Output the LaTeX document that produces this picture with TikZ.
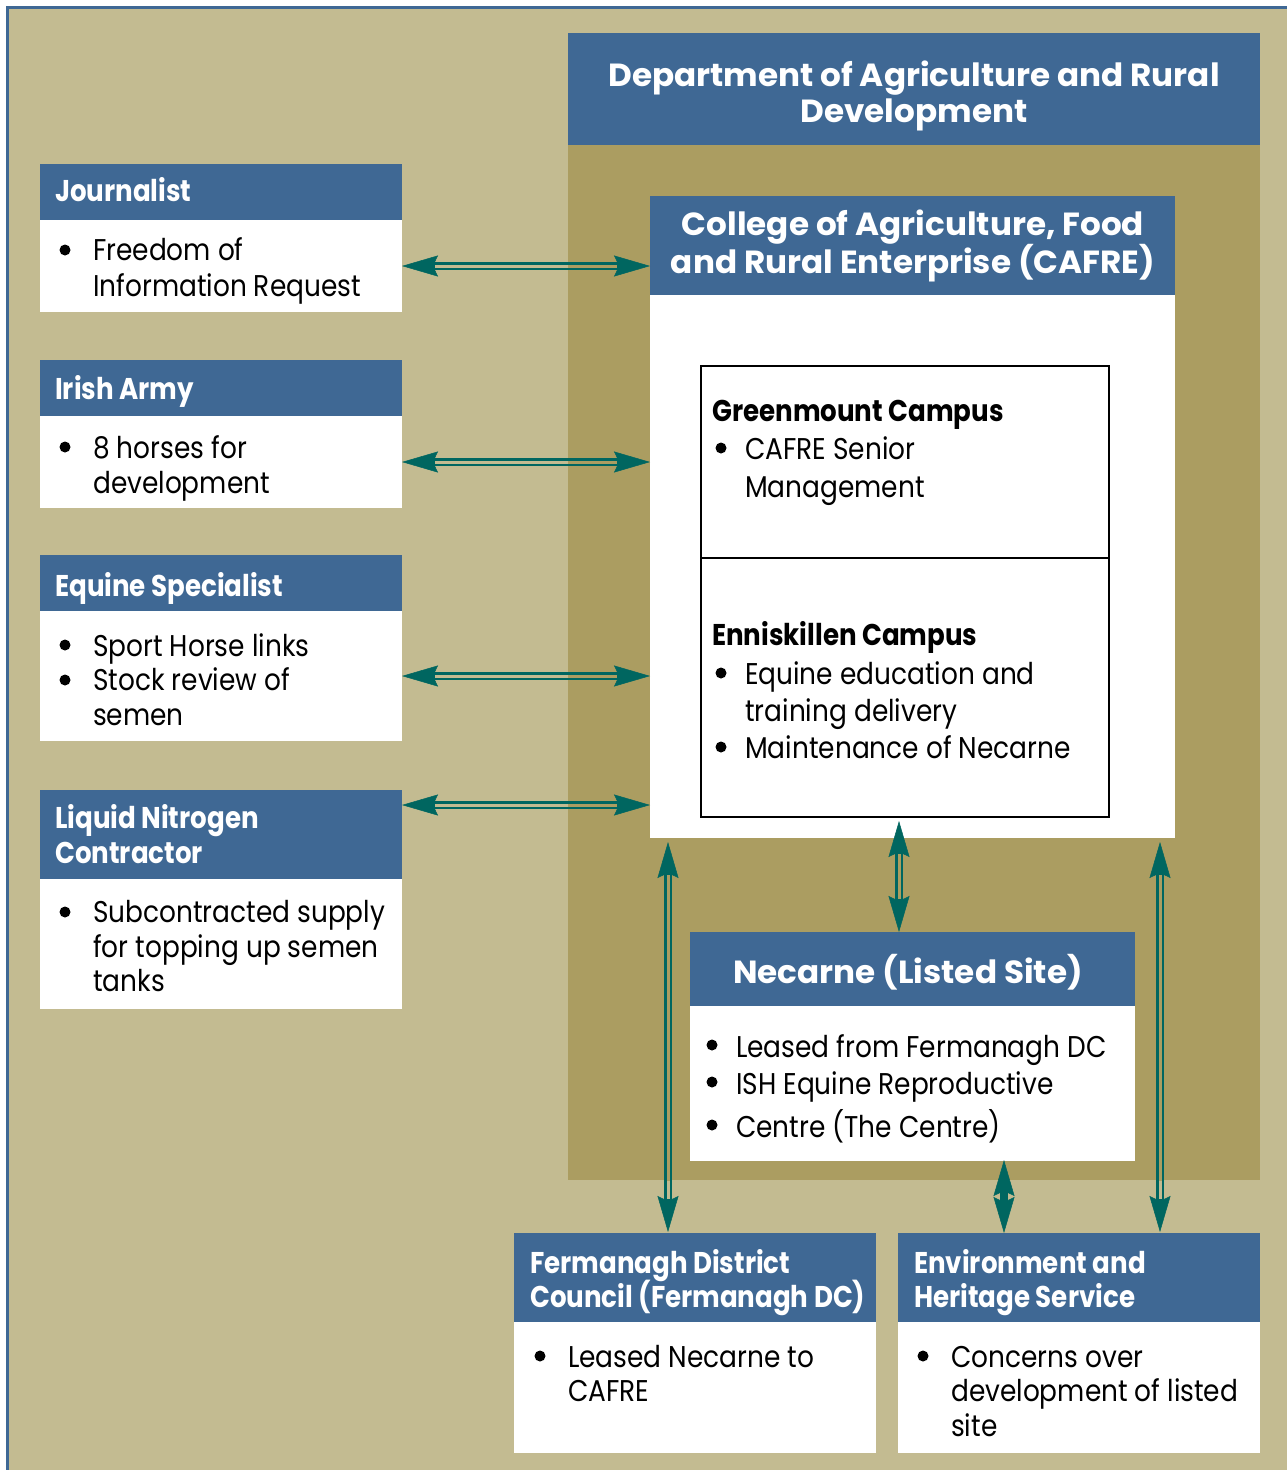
\documentclass[tikz,border=0pt]{standalone}
\usepackage{fontspec}
\setmainfont{Poppins}
\newfontfamily\bodyf{Poppins}[FakeStretch=0.88]
\newfontfamily\headf{Poppins}[FakeStretch=0.87]
\newfontfamily\bigf{Poppins}[FakeStretch=1.02]
\usetikzlibrary{arrows.meta,calc}
\definecolor{bgl}{HTML}{C3BB91}
\definecolor{bgd}{HTML}{AB9D61}
\definecolor{hblue}{HTML}{3F6894}
\definecolor{arr}{HTML}{006660}
\newcommand\myconns[1]{%
  \draw[#1] (jb.east) -- (jb.east -| cb.west);
  \draw[#1] (ib.east) -- (ib.east -| cb.west);
  \draw[#1] (qb.east) -- (qb.east -| cb.west);
  \draw[#1] ($(lh.north east)+(0,15)$) -- ($(lh.north east -| cb.west)+(0,15)$);
  \draw[#1] ($(cb.south west)+(18,4)$) -- ($(fh.north west)+(154,-1)$);
  \draw[#1] ($(ek.south west)+(198,4)$) -- ($(nh.north west)+(209,0)$);
  \draw[#1] ($(cb.south east)+(-15,4)$) -- ($(eh.north east)+(-100,-1)$);
}
\begin{document}
\begin{tikzpicture}[x=1pt,y=-1pt,
  panel/.style={draw=none, anchor=north west, inner sep=0, outer sep=0},
  wbox/.style={panel, fill=white},
  hbox/.style={panel, fill=hblue},
  ht/.style={anchor=base west, inner sep=0, text=white, font=\headf\bfseries\fontsize{30}{34}\selectfont},
  ct/.style={anchor=base west, inner sep=0, text=black, font=\headf\bfseries\fontsize{30}{34}\selectfont},
  bigt/.style={anchor=base, inner sep=0, text=white, font=\bigf\bfseries\fontsize{32}{38}\selectfont},
  bt/.style={anchor=base west, inner sep=0, text=black, font=\bodyf\fontsize{30}{35}\selectfont},
  bul/.style={circle, fill=black, inner sep=0, minimum size=11},
  armbody/.style={draw=arr, line width=8.5, shorten <=20, shorten >=20},
  armhead/.style={draw=arr, line width=0.5, {Stealth[length=36,width=21,inset=5]}-{Stealth[length=36,width=21,inset=5]}},
  gapline/.style={line width=3, shorten <=33, shorten >=33},
]
\useasboundingbox (0,0) rectangle (1287,1470);
% background
\fill[bgl] (6,6) rectangle (1287,1470);
\draw[hblue, line width=3] (7.5,1470) -- (7.5,7.5) -- (1287,7.5);

% DARD
\node[hbox, minimum width=692, minimum height=112] (dh) at (568,33) {};
\node[panel, fill=bgd, minimum width=692, minimum height=1035] (dk) at (568,145) {};
\node[bigt] (d1) at (914,86) {Department of Agriculture and Rural};
\node[bigt] (d2) at (914,122) {Development};

% CAFRE
\node[hbox, minimum width=525, minimum height=99] (ch) at (650,196) {};
\node[wbox, minimum width=525, minimum height=543] (cb) at (650,295) {};
\node[bigt] (c1) at (913,235) {College of Agriculture, Food};
\node[bigt] (c2) at (913,273) {and Rural Enterprise (CAFRE)};

% campuses
\node[panel, draw=black, line width=2.5, minimum width=408, minimum height=192] (gm) at (701,366) {};
\node[panel, draw=black, line width=2.5, minimum width=408, minimum height=259] (ek) at (701,558) {};
\node[ct] (g0) at (712,421) {Greenmount Campus};
\node[bul] (gb1) at (721,448) {};
\node[bt] (g1) at (745,459) {CAFRE Senior};
\node[bt] (g2) at (745,497) {Management};
\node[ct] (e0) at (712,645) {Enniskillen Campus};
\node[bul] (eb1) at (721,673) {};
\node[bt] (e1) at (745,684) {Equine education and};
\node[bt] (e2) at (745,721) {training delivery};
\node[bul] (eb2) at (721,747) {};
\node[bt] (e3) at (745,758) {Maintenance of Necarne};

% Journalist
\node[hbox, minimum width=362, minimum height=56] (jh) at (40,164) {};
\node[wbox, minimum width=362, minimum height=92] (jb) at (40,220) {};
\node[ht] (jt) at (55,201) {Journalist};
\node[bul] (jbl) at (65,250) {};
\node[bt] (j1) at (93,260) {Freedom of};
\node[bt] (j2) at (93,296) {Information Request};

% Irish Army
\node[hbox, minimum width=362, minimum height=56] (ih) at (40,360) {};
\node[wbox, minimum width=362, minimum height=92] (ib) at (40,416) {};
\node[ht] (it) at (55,399) {Irish Army};
\node[bul] (ibl) at (65,447) {};
\node[bt] (i1) at (93,458) {8 horses for};
\node[bt] (i2) at (93,493) {development};

% Equine Specialist
\node[hbox, minimum width=362, minimum height=56] (qh) at (40,555) {};
\node[wbox, minimum width=362, minimum height=130] (qb) at (40,611) {};
\node[ht] (qt) at (55,596) {Equine Specialist};
\node[bul] (qbl1) at (65,645) {};
\node[bt] (q1) at (93,656) {Sport Horse links};
\node[bul] (qbl2) at (65,680) {};
\node[bt] (q2) at (93,690) {Stock review of};
\node[bt] (q3) at (93,725) {semen};

% Liquid Nitrogen
\node[hbox, minimum width=362, minimum height=89] (lh) at (40,790) {};
\node[wbox, minimum width=362, minimum height=130] (lb) at (40,879) {};
\node[ht] (lt1) at (55,828) {Liquid Nitrogen};
\node[ht] (lt2) at (55,863) {Contractor};
\node[bul] (lbl) at (65,912) {};
\node[bt] (l1) at (93,922) {Subcontracted supply};
\node[bt] (l2) at (93,957) {for topping up semen};
\node[bt] (l3) at (93,991) {tanks};

% Necarne
\node[hbox, minimum width=445, minimum height=74] (nh) at (690,932) {};
\node[wbox, minimum width=445, minimum height=155] (nb) at (690,1006) {};
\node[bigt] (nt) at (908,983) {Necarne (Listed Site)};
\node[bul] (nbl1) at (712,1045) {};
\node[bt] (n1) at (736,1057) {Leased from Fermanagh DC};
\node[bul] (nbl2) at (712,1082) {};
\node[bt] (n2) at (736,1094) {ISH Equine Reproductive};
\node[bul] (nbl3) at (712,1125) {};
\node[bt] (n3) at (736,1137) {Centre (The Centre)};

% Fermanagh DC
\node[hbox, minimum width=362, minimum height=89] (fh) at (514,1233) {};
\node[wbox, minimum width=362, minimum height=131] (fb) at (514,1322) {};
\node[ht] (ft1) at (530,1273) {Fermanagh District};
\node[ht] (ft2) at (530,1307) {Council (Fermanagh DC)};
\node[bul] (fbl) at (540,1356) {};
\node[bt] (f1) at (568,1367) {Leased Necarne to};
\node[bt] (f2) at (568,1401) {CAFRE};

% Environment and Heritage Service
\node[hbox, minimum width=362, minimum height=89] (eh) at (898,1233) {};
\node[wbox, minimum width=362, minimum height=131] (ebx) at (898,1322) {};
\node[ht] (ht1) at (914,1273) {Environment and};
\node[ht] (ht2) at (914,1307) {Heritage Service};
\node[bul] (hbl) at (923,1356) {};
\node[bt] (h1) at (951,1367) {Concerns over};
\node[bt] (h2) at (951,1401) {development of listed};
\node[bt] (h3) at (951,1436) {site};

% connectors
\myconns{armbody}
\draw[armbody] ($(nb.south west)+(314,-1)$) -- ($(eh.north west)+(106,0)$);
\myconns{armhead}
\draw[armhead] ($(nb.south west)+(314,-1)$) -- ($(eh.north west)+(106,0)$);
% gaps between the two rails, in the colour beneath
\myconns{gapline,draw=bgl}
\begin{scope}
  \clip (dk.north west) rectangle (dk.south east);
  \myconns{gapline,draw=bgd}
\end{scope}
\begin{scope}
  \clip (cb.north west) rectangle (cb.south east);
  \myconns{gapline,draw=white}
\end{scope}
\end{tikzpicture}
\end{document}
